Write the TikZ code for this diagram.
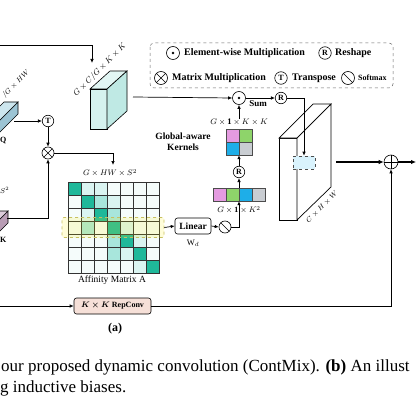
\documentclass[tikz,border=0pt]{standalone}
\usepackage{amsmath}
\usepackage{bm}
\usepackage{fontspec}
\setmainfont{Liberation Serif}
\usetikzlibrary{arrows.meta}
\definecolor{qtop}{HTML}{CDE6EE}
\definecolor{qside}{HTML}{9CC4D4}
\definecolor{ktop}{HTML}{DCCCDA}
\definecolor{kside}{HTML}{B89CB4}
\definecolor{boxc}{HTML}{D5F2EF}
\definecolor{boxd}{HTML}{BFE9E4}
\definecolor{cD}{HTML}{1FB89A}
\definecolor{cM}{HTML}{A8E6DC}
\definecolor{cL}{HTML}{DAF4F1}
\definecolor{cW}{HTML}{F5FCFB}
\definecolor{kpink}{HTML}{E49BE0}
\definecolor{kgreen}{HTML}{8ED46A}
\definecolor{kblue}{HTML}{1EAEE8}
\definecolor{kgray}{HTML}{C9CDD2}
\definecolor{rep}{HTML}{F6E0D8}
\definecolor{hly}{HTML}{C8C060}
\tikzset{
 op/.style={circle,draw,line width=0.6pt,minimum size=12pt,inner sep=0pt,fill=white},
 odot/.style={op,path picture={\fill[black] (path picture bounding box.center) circle (1.4pt);}},
 otimes/.style={op,path picture={\draw[line width=0.6pt] (path picture bounding box.north west)--(path picture bounding box.south east) (path picture bounding box.north east)--(path picture bounding box.south west);}},
 oplus/.style={op,path picture={\draw[line width=0.6pt] (path picture bounding box.north)--(path picture bounding box.south) (path picture bounding box.west)--(path picture bounding box.east);}},
 osoft/.style={op,path picture={\draw[line width=0.6pt] (path picture bounding box.north west)--(path picture bounding box.south east);}},
 olet/.style={op,minimum size=11.5pt,font=\bfseries\fontsize{8}{8}\selectfont},
 arr/.style={-{Latex[length=4pt,width=3.5pt]},line width=0.7pt},
 tarr/.style={-{Latex[length=5pt,width=4.5pt]},line width=1.2pt},
 lg/.style={font=\bfseries\fontsize{10}{11}\selectfont,inner sep=0pt,anchor=west},
 lbl/.style={font=\fontsize{7.5}{8}\selectfont,inner sep=0pt},
 bl/.style={font=\bfseries\fontsize{8}{9}\selectfont,inner sep=0pt},
 cell/.style={draw=black!80,line width=0.5pt},
}
\begin{document}
\begin{tikzpicture}[x=1pt,y=-1pt]
\useasboundingbox (0,0) rectangle (417,417);
\clip (0,0) rectangle (417,417);
\fill[white] (0,0) rectangle (417,417);

% ---------- legend ----------
\draw[dashed,rounded corners=4pt,black!60,line width=0.5pt] (150,43) rectangle (393,88);
\node[odot,minimum size=13pt] (lg1) at (173,53) {};
\node[lg] (lt1) at (184,53) {Element-wise Multiplication};
\node[olet,minimum size=12.5pt] (lg2) at (325,53) {R};
\node[lg] (lt2) at (335,53) {Reshape};
\node[otimes,minimum size=13pt] (lg3) at (161,78) {};
\node[lg] (lt3) at (172,78) {Matrix Multiplication};
\node[olet,minimum size=12.5pt] (lg4) at (281,78) {T};
\node[lg] (lt4) at (292,78) {Transpose};
\node[osoft,minimum size=13pt] (lg5) at (348,78) {};
\node[lg,font=\bfseries\fontsize{8}{9}\selectfont] (lt5) at (358,78) {Softmax};

% ---------- Q bar ----------
\filldraw[fill=qside,line width=0.6pt] (18,102)--(18,114)--(-12,144)--(-12,132)--cycle;
\filldraw[fill=qtop,line width=0.6pt] (4,102)--(18,102)--(-12,132)--(-26,132)--cycle;
\node[lbl,rotate=45] (qlab) at (16,84) {$/G\times HW$};
\node[bl,anchor=west] (qname) at (0,140) {Q};
\coordinate (qout) at (14,121);

% ---------- K bar ----------
\filldraw[fill=kside,line width=0.6pt] (8,211)--(8,223)--(-22,253)--(-22,241)--cycle;
\filldraw[fill=ktop,line width=0.6pt] (-6,211)--(8,211)--(-22,241)--(-36,241)--cycle;
\node[lbl,anchor=west] (slab) at (0,190) {$S^2$};
\node[bl,anchor=west] (kname) at (0,240) {K};
\coordinate (kout) at (7,218);

% ---------- ops on the left ----------
\node[olet] (T) at (48,121) {T};
\node[otimes] (mm) at (48,153) {};
\draw[arr] (qout) -- (T.west);
\draw[arr] (T.south) -- (mm.north);
\draw[arr] (kout) -| (mm.south);

% ---------- V box ----------
\filldraw[fill=boxc,line width=0.6pt] (90,89) rectangle (107,129);
\filldraw[fill=boxc!70!white,line width=0.6pt] (90,89)--(107,89)--(127,71)--(110,71)--cycle;
\filldraw[fill=boxd,line width=0.6pt] (107,89)--(127,71)--(127,111)--(107,129)--cycle;
\node[lbl,rotate=45,font=\fontsize{8}{8}\selectfont] (vlab) at (100,70) {$G\times C/G\times K\times K$};
\coordinate (vin0) at (-5,45);
\coordinate (vin) at (92,63);
\draw[arr] (vin0) -| (vin);
\coordinate (vout) at (133,97);

% ---------- affinity matrix ----------
\foreach \r/\cols in {0/{3,1,1,0,0,0,0},1/{0,3,2,1,0,0,0},2/{0,1,3,2,0,0,0},3/{0,2,0,3,1,0,0},4/{0,0,0,2,3,1,0},5/{0,0,0,2,1,3,0},6/{0,0,0,0,0,1,3}}{
  \foreach \v [count=\c from 0] in \cols {
    \ifcase\v \def\cc{cW}\or \def\cc{cL}\or \def\cc{cM}\or \def\cc{cD}\fi
    \filldraw[cell,fill=\cc] (68+13*\c,182+13*\r) rectangle ++(13,13);
  }
}
\node[draw=hly,dashed,fill=yellow,fill opacity=0.15,draw opacity=1,line width=0.7pt,rounded corners=2pt,minimum width=102pt,minimum height=20pt] (hl) at (113,227.5) {};
\node[lbl,font=\fontsize{8}{8}\selectfont] (alab) at (110,173) {$G\times HW\times S^2$};
\node[lbl,font=\fontsize{9.5}{10}\selectfont] (aname) at (112,280) {Affinity Matrix A};
\coordinate (ain) at (113,165);
\draw[arr] (mm.east) -| (ain);

% ---------- linear / softmax ----------
\node[draw,rounded corners=2.5pt,line width=0.6pt,minimum width=36pt,minimum height=16pt,inner sep=0pt,font=\bfseries\fontsize{9.5}{10}\selectfont] (lin) at (193,226) {Linear};
\node[lbl,font=\fontsize{8.5}{9}\selectfont] (wd) at (193,243) {$\mathrm{W}_d$};
\node[osoft] (sm) at (225,227) {};
\draw[arr] (hl.east) -- (lin.west);
\draw[arr] (lin.east) -- (sm.west);

% ---------- vector & kernel ----------
\foreach \cc [count=\i from 0] in {kpink,kgreen,kblue,kgray}{
  \filldraw[fill=\cc,draw=black!70,line width=0.6pt] (213+13*\i,188) rectangle ++(13,13);
}
\node[minimum width=52pt,minimum height=13pt,inner sep=0pt] (vec) at (239,194.5) {};
\node[lbl,font=\fontsize{8}{8}\selectfont] (veclab) at (239,210) {$G\times\mathbf{1}\times K^2$};
\draw[arr] (sm.east) -| (vec.south);
\node[olet] (R1) at (239,172) {R};
\draw[arr] (vec.north) -- (R1.south);
\filldraw[fill=kpink,draw=black!70,line width=0.6pt] (226,129) rectangle ++(13,13);
\filldraw[fill=kgreen,draw=black!70,line width=0.6pt] (239,129) rectangle ++(13,13);
\filldraw[fill=kblue,draw=black!70,line width=0.6pt] (226,142) rectangle ++(13,13);
\filldraw[fill=kgray,draw=black!70,line width=0.6pt] (239,142) rectangle ++(13,13);
\node[minimum size=26pt,inner sep=0pt] (ker) at (239,142) {};
\draw[arr] (R1.north) -- (ker.south);
\node[lbl,font=\fontsize{8.5}{9}\selectfont] (klab) at (239,122) {$G\times\mathbf{1}\times K\times K$};
\node[bl,align=center,font=\bfseries\fontsize{9.5}{11.5}\selectfont] (gak) at (183,141.5) {Global-aware\\Kernels};

% ---------- odot, sum, reshape ----------
\node[odot,minimum size=13pt] (od) at (239,98) {};
\draw[arr] (klab.north) -- (od.south);
\draw[arr] (vout) -- (od.west);
\node[bl,font=\bfseries\fontsize{9}{9}\selectfont] (sum) at (258,104) {Sum};
\node[olet] (R2) at (281,98) {R};
\draw[arr] (od.east) -- (R2.west);

% ---------- big box ----------
\filldraw[fill=white,line width=0.7pt] (279,138) rectangle (297,220);
\filldraw[fill=white,line width=0.7pt] (279,138)--(297,138)--(331,104)--(313,104)--cycle;
\filldraw[fill=white,line width=0.7pt] (297,138)--(331,104)--(331,187)--(297,220)--cycle;
\node[draw=black!70,dashed,fill=cyan!15,line width=0.6pt,minimum width=22pt,minimum height=13pt,inner sep=0pt] (dr) at (304,162.5) {};
\draw[arr] (R2.east) -| (dr.north);
\node[lbl,rotate=45] (blab) at (322,207) {$C\times H\times W$};
\coordinate (bout) at (336,162);

% ---------- plus & repconv ----------
\node[oplus,minimum size=14pt] (pl) at (391,162) {};
\coordinate (pout) at (416,162);
\draw[tarr] (bout) -- (pl.west);
\draw[tarr] (pl.east) -- (pout);
\node[draw,fill=rep,rounded corners=2.5pt,line width=0.6pt,minimum width=77pt,minimum height=16pt,inner sep=0pt,font=\bfseries\fontsize{8}{9}\selectfont] (rc) at (112.5,306) {$\bm{K\times K}$ RepConv};
\coordinate (rin) at (-5,306);
\draw[arr] (rin) -- (rc.west);
\draw[arr] (rc.east) -| (pl.south);

% ---------- caption ----------
\node[bl,font=\bfseries\fontsize{12}{12}\selectfont] (cap) at (115,329) {(a)};
\node[anchor=west,inner sep=0pt,font=\fontsize{17}{19}\selectfont] (c1) at (1,367) {our proposed dynamic convolution (ContMix). \textbf{(b)} An illust};
\node[anchor=west,inner sep=0pt,font=\fontsize{17}{19}\selectfont] (c2) at (0,388) {g inductive biases.};
\end{tikzpicture}
\end{document}
